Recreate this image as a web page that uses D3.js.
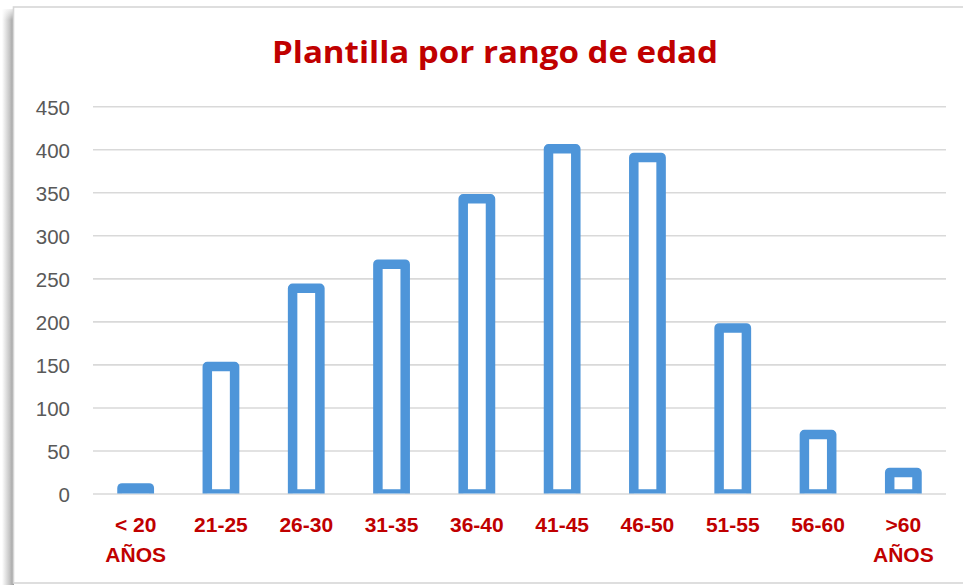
<!DOCTYPE html>
<html>
<head>
<meta charset="utf-8">
<script src="https://cdn.jsdelivr.net/npm/d3@7"></script>
<style>
  html, body { margin: 0; padding: 0; background: #ffffff; }
  svg { display: block; }
</style>
</head>
<body>
<svg id="chart" width="963" height="585"></svg>
<script>
const categories = ["< 20|AÑOS", "21-25", "26-30", "31-35", "36-40", "41-45", "46-50", "51-55", "56-60", ">60|AÑOS"];
const values = [7, 148, 239, 267, 343, 401, 391, 193, 69, 25];
const yTicks = [0, 50, 100, 150, 200, 250, 300, 350, 400, 450];
const title = "Plantilla por rango de edad";

const svg = d3.select("#chart");
const W = 963, H = 585;
const plot = { left: 93, right: 946, top: 106.7, bottom: 494 };

// frame + left shadow
const defs = svg.append("defs");
const grad = defs.append("linearGradient").attr("id", "shadow").attr("x1", "0").attr("x2", "1");
grad.append("stop").attr("offset", "0%").attr("stop-color", "#ffffff");
grad.append("stop").attr("offset", "60%").attr("stop-color", "#c8c8c8");
grad.append("stop").attr("offset", "100%").attr("stop-color", "#9a9a9a");
const vgrad = defs.append("linearGradient").attr("id", "shadowTop").attr("x1", "0").attr("x2", "0").attr("y1", "0").attr("y2", "1");
vgrad.append("stop").attr("offset", "0%").attr("stop-color", "#ffffff").attr("stop-opacity", 1);
vgrad.append("stop").attr("offset", "100%").attr("stop-color", "#ffffff").attr("stop-opacity", 0);

svg.append("rect").attr("x", 2).attr("y", 9).attr("width", 12).attr("height", 576).attr("fill", "url(#shadow)");
svg.append("rect").attr("x", 0).attr("y", 6).attr("width", 14).attr("height", 14).attr("fill", "url(#shadowTop)");
svg.append("rect").attr("x", 13.5).attr("y", 7).attr("width", 1000).attr("height", 576)
  .attr("fill", "#ffffff").attr("stroke", "#d6d6d6").attr("stroke-width", 1.6);

// scales
const x = d3.scaleBand().domain(categories).range([plot.left, plot.right]).paddingInner(0.68).paddingOuter(0.34);
const y = d3.scaleLinear().domain([0, 450]).range([plot.bottom, plot.top]);

// gridlines
svg.append("g").selectAll("line").data(yTicks).join("line")
  .attr("x1", plot.left).attr("x2", plot.right)
  .attr("y1", d => y(d)).attr("y2", d => y(d))
  .attr("stroke", "#d9d9d9").attr("stroke-width", 1.6);

// y axis labels
const yAxis = d3.axisLeft(y).tickValues(yTicks).tickSize(0).tickPadding(0);
const yg = svg.append("g").attr("transform", "translate(70,0)").call(yAxis);
yg.select(".domain").remove();
yg.selectAll("text").attr("fill", "#595959").attr("font-family", "'Liberation Sans', Arial, sans-serif")
  .attr("font-size", 20.5).attr("dy", "0.36em");

// bars (clipped at baseline)
defs.append("clipPath").attr("id", "plotclip").append("rect")
  .attr("x", 0).attr("y", 0).attr("width", W).attr("height", plot.bottom - 0.5);
svg.append("g").attr("clip-path", "url(#plotclip)").selectAll("rect").data(values).join("rect")
  .attr("x", (d, i) => x(categories[i]))
  .attr("width", x.bandwidth())
  .attr("y", d => y(d))
  .attr("height", d => y(0) - y(d))
  .attr("fill", "#ffffff")
  .attr("stroke", "#4E95D9").attr("stroke-width", 9.5).attr("stroke-linejoin", "round");

// x labels
const xg = svg.append("g");
categories.forEach(c => {
  const lines = c.split("|");
  const t = xg.append("text")
    .attr("x", x(c) + x.bandwidth() / 2).attr("y", 532)
    .attr("text-anchor", "middle").attr("fill", "#C00000")
    .attr("font-family", "'Liberation Sans', Arial, sans-serif").attr("font-weight", "bold").attr("font-size", 21);
  lines.forEach((l, j) => {
    t.append("tspan").attr("x", x(c) + x.bandwidth() / 2).attr("y", 532 + j * 30).text(l);
  });
});

// title
svg.append("text").attr("x", 495).attr("y", 62.5).attr("text-anchor", "middle")
  .attr("fill", "#C00000").attr("font-family", "'Open Sans', 'Liberation Sans', Arial, sans-serif")
  .attr("font-weight", "bold").attr("font-size", 30)
  .attr("textLength", 446).attr("lengthAdjust", "spacingAndGlyphs")
  .text(title);
</script>
</body>
</html>
